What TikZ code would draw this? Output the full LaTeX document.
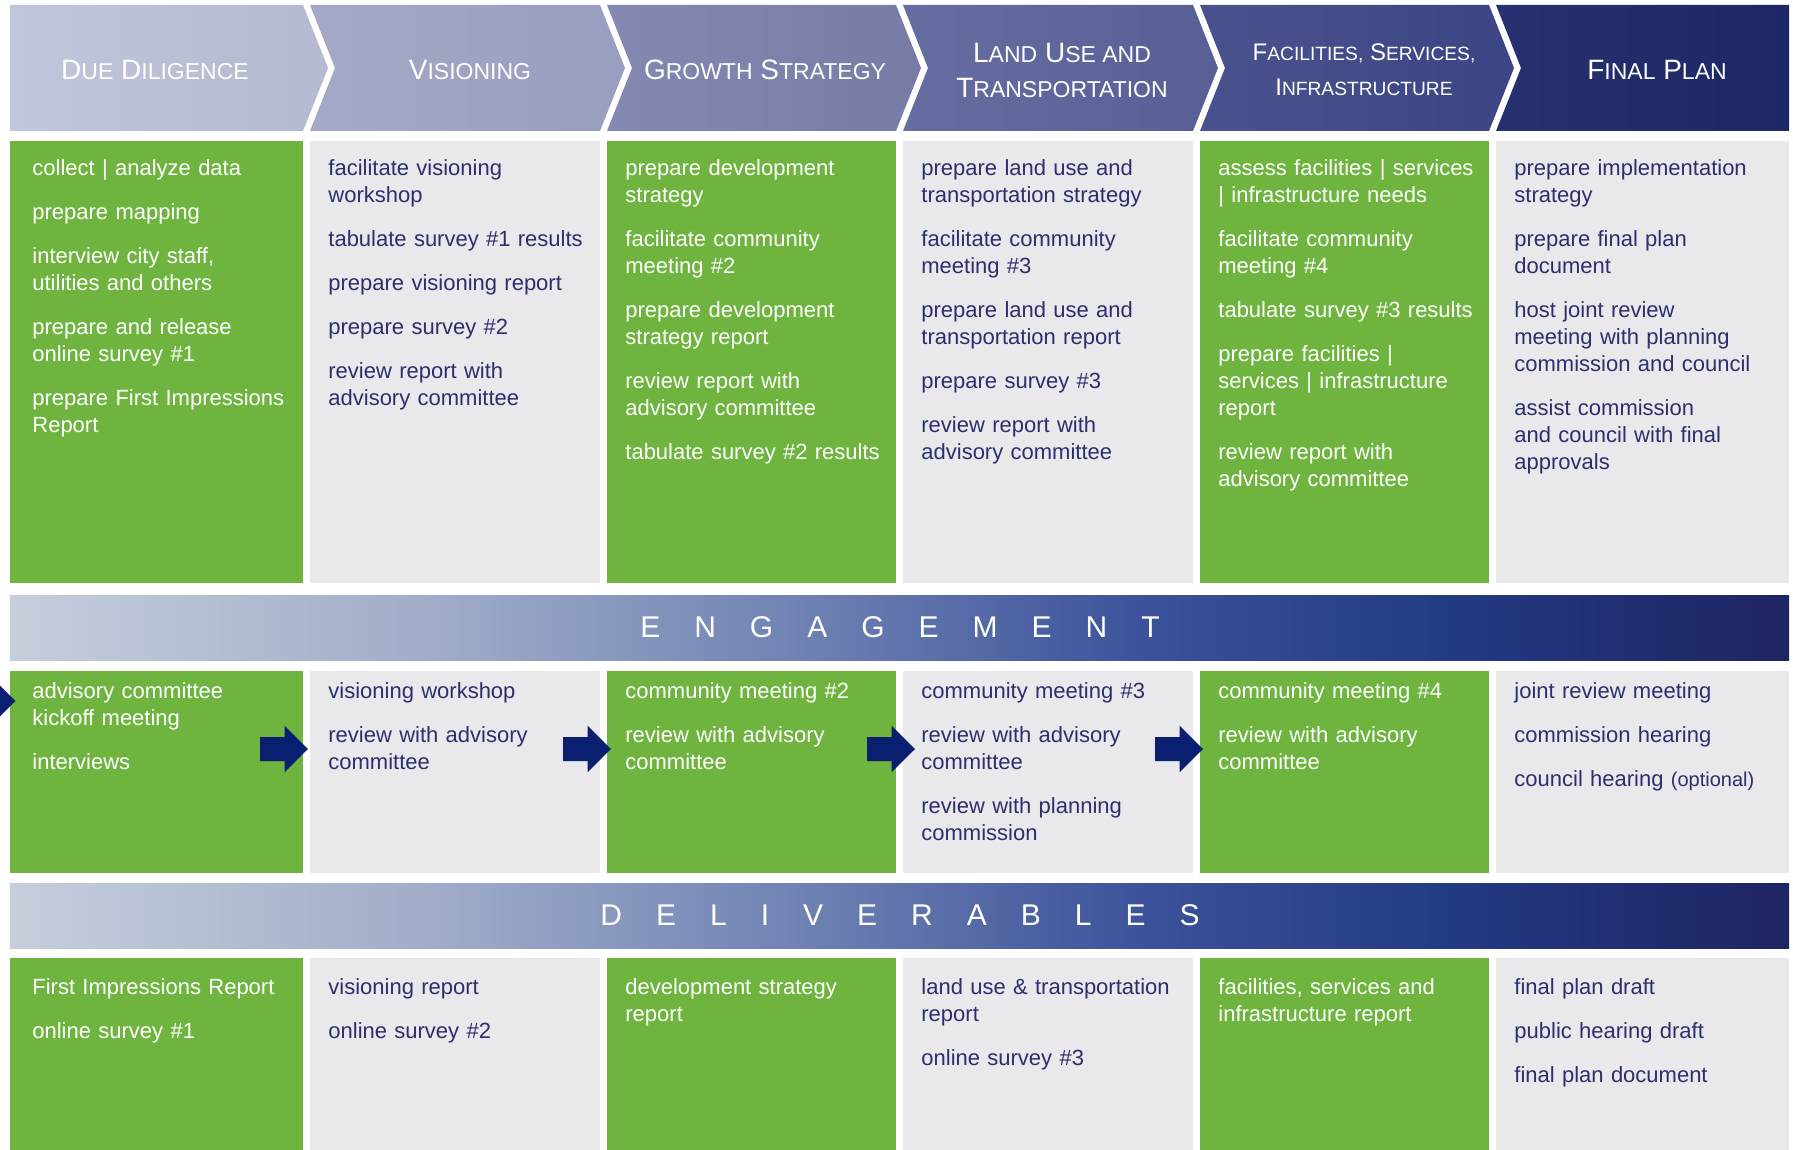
\documentclass[tikz,border=0pt]{standalone}
\usepackage{fontspec}
\setmainfont{Liberation Sans}

\definecolor{boxgreen}{HTML}{6EB43F}
\definecolor{boxgray}{HTML}{E9E9EB}
\definecolor{textnavy}{HTML}{2C2F6E}
\definecolor{arrowblue}{HTML}{0B1F70}
\definecolor{hA1}{HTML}{C2C6DB}\definecolor{hA2}{HTML}{B4B9D1}
\definecolor{hB1}{HTML}{A5A8C6}\definecolor{hB2}{HTML}{9A9EBF}
\definecolor{hC1}{HTML}{8589B1}\definecolor{hC2}{HTML}{777BA6}
\definecolor{hD1}{HTML}{666DA0}\definecolor{hD2}{HTML}{575F95}
\definecolor{hE1}{HTML}{4A528E}\definecolor{hE2}{HTML}{3C4585}
\definecolor{hF1}{HTML}{27316F}\definecolor{hF2}{HTML}{1E2765}
\definecolor{bandA}{HTML}{C6CEDC}
\definecolor{bandB}{HTML}{9EABC8}
\definecolor{bandC}{HTML}{6F82B3}
\definecolor{bandD}{HTML}{3B519A}
\definecolor{bandE}{HTML}{233A84}
\definecolor{bandF}{HTML}{1F2462}

\pgfdeclarehorizontalshading{bandshade}{100bp}{color(0bp)=(bandA); color(25bp)=(bandA); color(37.4bp)=(bandB); color(47.2bp)=(bandC); color(57bp)=(bandD); color(65.4bp)=(bandE); color(75bp)=(bandF); color(100bp)=(bandF)}

% small capitals made by hand
\def\smsize{11.5pt}
\newcommand{\sm}[1]{{\fontsize{\smsize}{17.5pt}\selectfont #1}}
\newcommand{\itemgap}{\\[8.5pt]}
\newcommand{\trk}{\hspace{17pt}}

\tikzset{
  greentext/.style={anchor=north west, inner sep=0pt, text width=140pt, align=left,
    text=white, font=\fontsize{11pt}{13.5pt}\selectfont},
  graytext/.style={greentext, text=textnavy},
  headtext/.style={inner sep=0pt, text=white, align=center,
    font=\fontsize{14pt}{17.5pt}\selectfont},
  bandtext/.style={inner sep=0pt, text=white, text depth=0pt,
    font=\fontsize{15pt}{18pt}\selectfont}
}

\begin{document}
\begin{tikzpicture}[x=0.5pt, y=-0.5pt]
\useasboundingbox (0,0) rectangle (1793,1150);
\clip (0,0) rectangle (1793,1150);

% Phase chevrons
\shade[left color=hA1, right color=hA2] (10,5) -- (303,5) -- (328,68) -- (303,131) -- (10,131) -- cycle;
\shade[left color=hB1, right color=hB2] (310,5) -- (600,5) -- (625,68) -- (600,131) -- (310,131) -- (335,68) -- cycle;
\shade[left color=hC1, right color=hC2] (607,5) -- (896,5) -- (921,68) -- (896,131) -- (607,131) -- (632,68) -- cycle;
\shade[left color=hD1, right color=hD2] (903,5) -- (1193,5) -- (1218,68) -- (1193,131) -- (903,131) -- (928,68) -- cycle;
\shade[left color=hE1, right color=hE2] (1200,5) -- (1489,5) -- (1514,68) -- (1489,131) -- (1200,131) -- (1225,68) -- cycle;
\shade[left color=hF1, right color=hF2] (1496,5) -- (1789,5) -- (1789,131) -- (1496,131) -- (1521,68) -- cycle;

\node[headtext] (h1) at (155,70) {D\sm{UE} D\sm{ILIGENCE}};
\node[headtext] (h2) at (470,70) {V\sm{ISIONING}};
\node[headtext] (h3) at (765,70) {G\sm{ROWTH} S\sm{TRATEGY}};
\node[headtext] (h4) at (1062,70) {L\sm{AND} U\sm{SE AND}\\T\sm{RANSPORTATION}};
\node[headtext, font=\fontsize{12pt}{17.5pt}\selectfont\def\smsize{9.6pt}] (h5) at (1364,70)
  {F\sm{ACILITIES,} S\sm{ERVICES,}\\I\sm{NFRASTRUCTURE}};
\node[headtext] (h6) at (1657,70) {F\sm{INAL} P\sm{LAN}};

% Column boxes, three rows
\foreach \ya/\yb in {141/583, 671/873, 958/1150} {
  \fill[boxgreen] (10,\ya) rectangle (303,\yb);
  \fill[boxgray] (310,\ya) rectangle (600,\yb);
  \fill[boxgreen] (607,\ya) rectangle (896,\yb);
  \fill[boxgray] (903,\ya) rectangle (1193,\yb);
  \fill[boxgreen] (1200,\ya) rectangle (1489,\yb);
  \fill[boxgray] (1496,\ya) rectangle (1789,\yb);
}

% Bands
\shade[shading=bandshade] (10,595) rectangle (1789,660);
\shade[shading=bandshade] (10,883) rectangle (1789,948);
\node[bandtext] (eng) at (900,627.5) {E\trk N\trk G\trk A\trk G\trk E\trk M\trk E\trk N\trk T};
\node[bandtext] (del) at (900,915.5) {D\trk E\trk L\trk I\trk V\trk E\trk R\trk A\trk B\trk L\trk E\trk S};

% Tasks
\node[greentext] (t1) at (32,159) {collect | analyze data\itemgap prepare mapping\itemgap
  interview city staff,\\utilities and others\itemgap prepare and release\\online survey \#1\itemgap
  prepare First Impressions\\Report};
\node[graytext] (t2) at (328,159) {facilitate visioning\\workshop\itemgap tabulate survey \#1 results\itemgap
  prepare visioning report\itemgap prepare survey \#2\itemgap review report with\\advisory committee};
\node[greentext] (t3) at (625,159) {prepare development\\strategy\itemgap facilitate community\\meeting \#2\itemgap
  prepare development\\strategy report\itemgap review report with\\advisory committee\itemgap
  tabulate survey \#2 results};
\node[graytext] (t4) at (921,159) {prepare land use and\\transportation strategy\itemgap
  facilitate community\\meeting \#3\itemgap prepare land use and\\transportation report\itemgap
  prepare survey \#3\itemgap review report with\\advisory committee};
\node[greentext] (t5) at (1218,159) {assess facilities | services\\| infrastructure needs\itemgap
  facilitate community\\meeting \#4\itemgap tabulate survey \#3 results\itemgap
  prepare facilities |\\services | infrastructure\\report\itemgap review report with\\advisory committee};
\node[graytext] (t6) at (1514,159) {prepare implementation\\strategy\itemgap prepare final plan\\document\itemgap
  host joint review\\meeting with planning\\commission and council\itemgap
  assist commission\\and council with final\\approvals};

% Engagement
\node[greentext] (e1) at (32,682.5) {advisory committee\\kickoff meeting\itemgap interviews};
\node[graytext] (e2) at (328,682.5) {visioning workshop\itemgap review with advisory\\committee};
\node[greentext] (e3) at (625,682.5) {community meeting \#2\itemgap review with advisory\\committee};
\node[graytext] (e4) at (921,682.5) {community meeting \#3\itemgap review with advisory\\committee\itemgap
  review with planning\\commission};
\node[greentext] (e5) at (1218,682.5) {community meeting \#4\itemgap review with advisory\\committee};
\node[graytext] (e6) at (1514,682.5) {joint review meeting\itemgap commission hearing\itemgap
  council hearing {\fontsize{10pt}{13.5pt}\selectfont(optional)}};

% Arrows between engagement boxes
\foreach \tx/\ty in {15.5/701, 308/749, 611/749, 915/749, 1203/749} {
  \fill[arrowblue] (\tx-48,\ty-12) -- (\tx-23.5,\ty-12) -- (\tx-23.5,\ty-23.3) -- (\tx,\ty)
    -- (\tx-23.5,\ty+23.3) -- (\tx-23.5,\ty+12) -- (\tx-48,\ty+12) -- cycle;
}

% Deliverables
\node[greentext] (d1) at (32,978) {First Impressions Report\itemgap online survey \#1};
\node[graytext] (d2) at (328,978) {visioning report\itemgap online survey \#2};
\node[greentext] (d3) at (625,978) {development strategy\\report};
\node[graytext] (d4) at (921,978) {land use \& transportation\\report\itemgap online survey \#3};
\node[greentext] (d5) at (1218,978) {facilities, services and\\infrastructure report};
\node[graytext] (d6) at (1514,978) {final plan draft\itemgap public hearing draft\itemgap final plan document};
\end{tikzpicture}
\end{document}
